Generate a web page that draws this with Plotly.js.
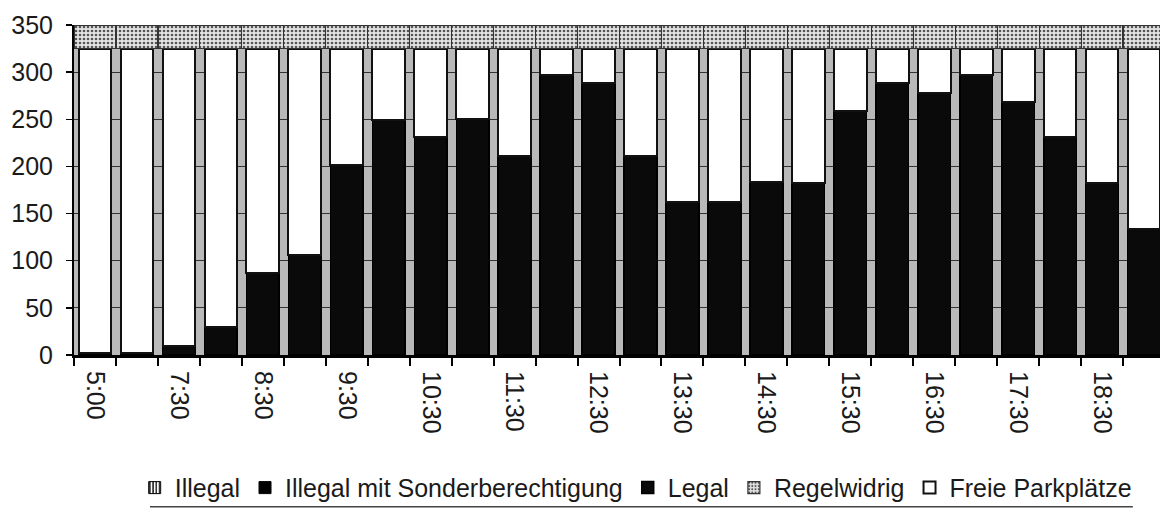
<!DOCTYPE html>
<html>
<head>
<meta charset="utf-8">
<script src="https://cdn.plot.ly/plotly-3.0.1.min.js"></script>
<style>
  html, body { margin: 0; padding: 0; background: #ffffff; overflow: hidden; }
  #chart { width: 1160px; height: 519px; }
</style>
</head>
<body>
<div id="chart"></div>
<script>
// Categories (time of count)
const times = ["5:00","7:00","7:30","8:00","8:30","9:00","9:30","10:00","10:30","11:00","11:30","12:00","12:30",
               "13:00","13:30","14:00","14:30","15:00","15:30","16:00","16:30","17:00","17:30","18:00","18:30","19:00"];
// Tick labels shown (every other category)
const tickLabels = ["5:00","","7:30","","8:30","","9:30","","10:30","","11:30","","12:30",
                    "","13:30","","14:30","","15:30","","16:30","","17:30","","18:30",""];

// Series values
const illegal       = [0,0,0,0,0,0,0,0,0,0,0,0,0,0,0,0,0,0,0,0,0,0,0,0,0,0];
const illegalSonder = [0,0,0,0,0,0,0,0,0,0,0,0,0,0,0,0,0,0,0,0,0,0,0,0,0,0];
const legal         = [2,2,10,30,87,106,201,249,231,250,211,297,288,211,162,162,183,182,259,288,278,297,268,231,182,134];
const freie         = [323,323,315,295,238,219,124,76,94,75,114,28,37,114,163,163,142,143,66,37,47,28,57,94,143,191];
const regelwidrig   = [25,25,25,25,25,25,25,25,25,25,25,25,25,25,25,25,25,25,25,25,25,25,25,25,25,25];

const FONT = "Liberation Sans, Arial, sans-serif";
const narrow = times.map(() => 0.78);
const full = times.map(() => 1);

const traces = [
  { type: "bar", name: "Illegal", x: times, y: illegal, width: narrow, legendrank: 1,
    marker: { color: "#ffffff", line: { color: "#000", width: 1 },
              pattern: { shape: "|", fgcolor: "#000", bgcolor: "#fff", size: 4, solidity: 0.4 } } },
  { type: "bar", name: "Illegal mit Sonderberechtigung", x: times, y: illegalSonder, width: narrow, legendrank: 2,
    marker: { color: "#000000", line: { color: "#000", width: 1 } } },
  { type: "bar", name: "Legal", x: times, y: legal, width: narrow, legendrank: 3,
    marker: { color: "#0a0a0a", line: { color: "#000", width: 1.5 } } },
  { type: "bar", name: "Freie Parkplätze", x: times, y: freie, width: narrow, legendrank: 5,
    marker: { color: "#ffffff", line: { color: "#111", width: 2 } } },
  { type: "bar", name: "Regelwidrig", x: times, y: regelwidrig, width: full, legendrank: 4,
    marker: { color: "#d8d8d8", line: { color: "#333", width: 1.2 },
              pattern: { shape: ".", fgcolor: "#555", bgcolor: "#e4e4e4", size: 4, solidity: 0.35 } } }
];

const layout = {
  width: 1160, height: 519,
  margin: { l: 74, r: 0, t: 25, b: 164 },
  paper_bgcolor: "#ffffff",
  plot_bgcolor: "#b9b9b9",
  barmode: "stack",
  font: { family: FONT, size: 25, color: "#1a1a1a" },
  showlegend: true,
  legend: {
    orientation: "h",
    xref: "container", yref: "container",
    x: 0.548, xanchor: "center",
    y: 0.06, yanchor: "middle",
    font: { family: FONT, size: 25, color: "#1a1a1a" },
    bgcolor: "rgba(0,0,0,0)",
    traceorder: "normal",
    itemwidth: 30
  },
  xaxis: {
    type: "category",
    range: [-0.5, 25.38],
    tickmode: "array",
    tickvals: times,
    ticktext: tickLabels,
    tickson: "boundaries",
    tickangle: 90,
    ticks: "outside", ticklen: 8, tickwidth: 2, tickcolor: "#000",
    ticklabelstandoff: 8,
    showline: true, linecolor: "#000", linewidth: 3,
    showgrid: false, zeroline: false,
    tickfont: { family: FONT, size: 25, color: "#1a1a1a" }
  },
  yaxis: {
    range: [0, 350],
    dtick: 50,
    ticks: "outside", ticklen: 6, tickwidth: 1.5, tickcolor: "#000",
    ticklabelstandoff: 8,
    showline: true, linecolor: "#000", linewidth: 2,
    showgrid: true, gridcolor: "#333", gridwidth: 1,
    zeroline: false,
    tickfont: { family: FONT, size: 25, color: "#1a1a1a" }
  },
  shapes: [
    { type: "line", xref: "paper", yref: "paper", x0: 0.07, x1: 0.975, y0: -0.46, y1: -0.46,
      line: { color: "#444", width: 1.5 } }
  ]
};

Plotly.newPlot("chart", traces, layout, { displayModeBar: false, staticPlot: true });
</script>
</body>
</html>
